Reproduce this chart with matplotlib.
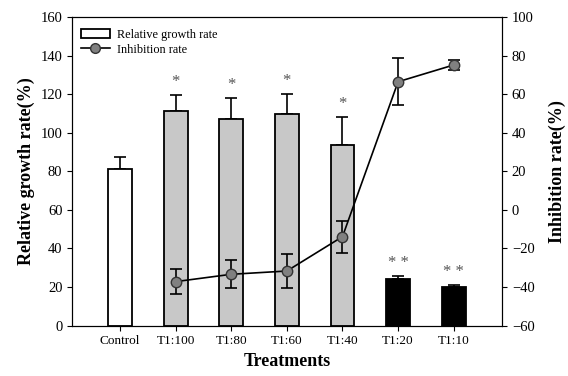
import matplotlib.pyplot as plt
from matplotlib.lines import Line2D
import numpy as np

plt.rcParams['font.family'] = ['Liberation Serif', 'DejaVu Serif']

# --- data ---
treatments = ["Control", "T1:100", "T1:80", "T1:60", "T1:40", "T1:20", "T1:10"]
growth = [81.0, 111.2, 107.1, 109.7, 93.6, 24.2, 19.9]
growth_err = [6.3, 8.3, 11.0, 10.3, 14.4, 1.4, 1.0]
bar_colors = ["white", "#c8c8c8", "#c8c8c8", "#c8c8c8", "#c8c8c8", "black", "black"]
marks = ["", "*", "*", "*", "*", "* *", "* *"]

# inhibition rate is only shown for the treatments (not control)
inhib = [-37.2, -33.4, -31.7, -13.9, 66.4, 75.1]
inhib_err = [6.6, 7.3, 9.0, 8.3, 12.3, 2.5]

x = np.arange(len(treatments))

fig = plt.figure(figsize=(5.68, 3.76), dpi=100)
ax = fig.add_axes([0.127, 0.134, 0.757, 0.821])

ax.bar(x, growth, width=0.43, color=bar_colors, edgecolor="black",
       linewidth=1.3, zorder=2)
ax.errorbar(x, growth, yerr=[np.zeros(len(growth)), growth_err], fmt="none",
            ecolor="black", elinewidth=1.2, capsize=4, capthick=1.2, zorder=1)

# significance marks above the error bars
for xi, g, e, m in zip(x, growth, growth_err, marks):
    if m:
        ax.text(xi, g + e + 2.5, m, ha="center", va="bottom", fontsize=12,
                color="#555555")

ax.set_ylim(0, 160)
ax.set_yticks(range(0, 161, 20))
ax.set_xlim(-0.86, 6.87)
ax.set_xticks(x)
ax.set_xticklabels(treatments, fontsize=9.5)
ax.tick_params(axis="y", labelsize=10.5)
ax.set_xlabel("Treatments", fontsize=13, fontweight="bold")
ax.set_ylabel("Relative growth rate(%)", fontsize=13, fontweight="bold")

ax2 = ax.twinx()
ax2.errorbar(x[1:], inhib, yerr=inhib_err, fmt="-o", color="black",
             markerfacecolor="#808080", markeredgecolor="#333333",
             markersize=7.5, linewidth=1.2, elinewidth=1.2, capsize=4,
             capthick=1.2)
ax2.set_ylim(-60, 100)
ax2.set_yticks(range(-60, 101, 20))
ax2.tick_params(axis="y", labelsize=10.5)
ax2.set_ylabel("Inhibition rate(%)", fontsize=13, fontweight="bold",
               rotation=90, labelpad=10)

handles = [
    plt.Rectangle((0, 0), 1, 1, facecolor="white", edgecolor="black", linewidth=1.3),
    Line2D([], [], color="black", marker="o", markerfacecolor="#808080",
           markeredgecolor="#333333", markersize=7, linewidth=1.2),
]
ax2.legend(handles, ["Relative growth rate", "Inhibition rate"],
           loc="upper left", frameon=False, fontsize=8.8, handlelength=2.4,
           borderaxespad=0.3, labelspacing=0.25, handletextpad=0.6,
           bbox_to_anchor=(0.0, 0.99))

plt.savefig("out.png", dpi=100)
